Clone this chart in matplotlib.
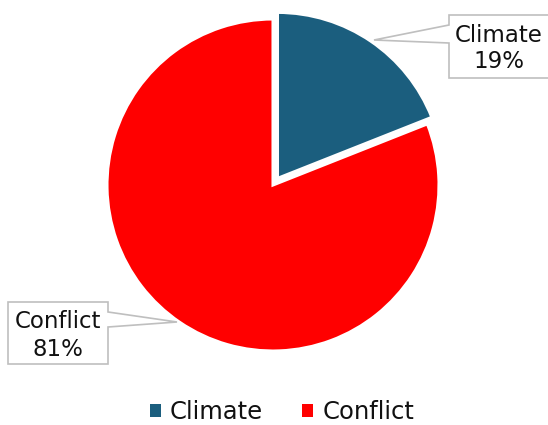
import matplotlib
matplotlib.use("Agg")
import matplotlib.pyplot as plt
from matplotlib.patches import Polygon, Rectangle

categories = ["Climate", "Conflict"]
values = [19, 81]
colors = ["#1B5E7E", "#FF0000"]
explode = [0.048, 0.0]

W, H = 548, 425
fig = plt.figure(figsize=(W / 100, H / 100), dpi=100)
fig.patch.set_facecolor("white")

cx, cy, r = 273, 185, 166
ax = fig.add_axes([(cx - r) / W, (H - cy - r) / H, 2 * r / W, 2 * r / H])
wedges, _ = ax.pie(values, colors=colors, startangle=90, counterclock=False,
                   explode=explode, radius=1.0,
                   wedgeprops=dict(edgecolor="white", linewidth=2.2))
ax.set_xlim(-1, 1)
ax.set_ylim(-1, 1)
ax.set_aspect("auto")
ax.axis("off")

def px(x, y):
    return (x / W, 1 - y / H)

box_edge = "#BFBFBF"

# Climate callout
clim_poly = [px(449, 15), px(549, 15), px(549, 78), px(449, 78), px(449, 43),
             px(374, 40), px(449, 25)]
fig.add_artist(Polygon(clim_poly, closed=True, transform=fig.transFigure,
                       facecolor="white", edgecolor=box_edge, linewidth=1.2, zorder=5))
fig.text(*px(499, 35), categories[0], ha="center", va="center",
         fontsize=16.5, zorder=6, color="#111111")
fig.text(*px(499, 62), f"{values[0]}%", ha="center", va="center",
         fontsize=16.5, zorder=6, color="#111111")

# Conflict callout
conf_poly = [px(8, 302), px(108, 302), px(108, 312), px(177, 322), px(108, 327),
             px(108, 364), px(8, 364)]
fig.add_artist(Polygon(conf_poly, closed=True, transform=fig.transFigure,
                       facecolor="white", edgecolor=box_edge, linewidth=1.2, zorder=5))
fig.text(*px(58, 321), categories[1], ha="center", va="center",
         fontsize=16.5, zorder=6, color="#111111")
fig.text(*px(58, 349), f"{values[1]}%", ha="center", va="center",
         fontsize=16.5, zorder=6, color="#111111")

# Legend
handles = [Rectangle((0, 0), 1, 1, facecolor=c) for c in colors]
fig.legend(handles, categories, loc="center",
           bbox_to_anchor=(0.5 + 8 / W, 1 - 412 / H),
           ncol=2, frameon=False, fontsize=17.5, handlelength=0.45, handleheight=0.45,
           handletextpad=0.38, columnspacing=1.6, labelcolor="#111111")

fig.savefig("out.png", dpi=100, facecolor="white")
